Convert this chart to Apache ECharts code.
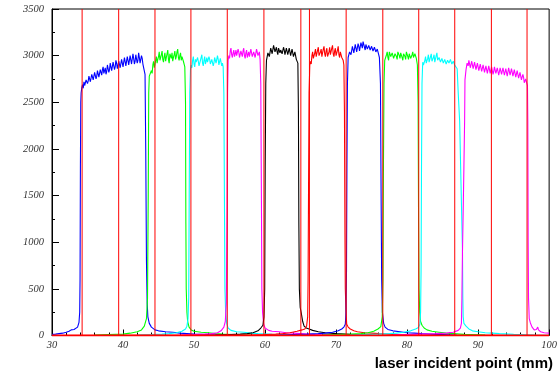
<!DOCTYPE html>
<html>
<head>
<meta charset="utf-8">
<script src="https://cdn.jsdelivr.net/npm/echarts@6/dist/echarts.min.js"></script>
<style>
html,body{margin:0;padding:0;background:#fff;}
#c{width:560px;height:380px;}
</style>
</head>
<body>
<div id="c"></div>
<script>
// ---- data (x in mm, y in counts) ----
const blueA = [[30,12],[30.5,15],[31,20],[31.5,25],[32,35],[32.4,45],[32.7,60],[32.9,80],[33.1,65],[33.3,75],[33.6,90],[33.8,140],[33.9,250],[33.95,600],[34.0,1800],[34.05,2500],[34.1,2600],[34.2,2660],
[34.3,2690],[34.4,2650],[34.5,2720],[34.6,2680],[34.7,2700],[34.8,2740],[34.9,2750],[35.0,2700],[35.1,2730],[35.2,2780],[35.3,2770],[35.4,2720],[35.5,2740],[35.6,2800],[35.7,2790],[35.8,2740],[35.9,2760],[36.0,2820],[36.1,2800],[36.2,2750],[36.3,2780],[36.4,2840],[36.5,2830],[36.6,2770],[36.7,2790],[36.8,2850],[36.9,2820],[37.0,2790],[37.1,2850],[37.2,2880],[37.3,2810],[37.4,2840],[37.5,2870],[37.6,2800],[37.7,2830],[37.8,2900],[37.9,2880],[38.0,2820],[38.1,2850],[38.2,2920],[38.3,2900],[38.4,2840],[38.5,2860],[38.6,2930],[38.7,2910],[38.8,2850],[38.9,2880],[39.0,2950],[39.1,2920],[39.2,2860],[39.3,2870],[39.4,2940],[39.5,2930],[39.6,2870],[39.7,2890],[39.8,2960],[39.9,2940],[40.0,2880],[40.1,2900],[40.2,2980],[40.3,2960],[40.4,2890],[40.5,2910],[40.6,2990],[40.7,2950],[40.8,2900],[40.9,2920],[41.0,3000],[41.1,2990],[41.2,2910],[41.3,2930],[41.4,3020],[41.5,2970],[41.6,2910],[41.7,2940],[41.8,3010],[41.9,2990],[42.0,2920],[42.1,2950],[42.2,3030],[42.3,2980],[42.4,2920],[42.5,2940],[42.6,3000],[42.7,2970],[42.8,2910],[42.9,2930],[43.0,2900],[43.1,2800],
[43.2,2000],[43.3,800],[43.4,350],[43.5,200],[43.7,130],[44.0,90],[44.5,60],[45,50],[46,40],[47,35],[48,25],[49,20],[50,15],[52,10],[55,5]];

const greenA = [[36,5],[38,10],[40,15],[41,25],[42,40],[42.6,60],[43,100],[43.3,180],[43.45,400],[43.55,1500],[43.62,2600],[43.7,2780],
[43.8,2790],[43.9,2760],[44.0,2840],[44.1,2810],[44.2,2900],[44.3,2940],[44.4,2870],[44.5,2910],[44.6,2950],[44.7,2990],[44.8,2920],[44.9,2960],[45.0,2990],[45.1,3040],[45.2,2950],[45.3,2980],[45.4,3010],[45.5,3050],[45.6,2960],[45.7,2930],[45.8,2990],[45.9,3030],[46.0,2940],[46.1,2980],[46.2,3000],[46.3,3060],[46.4,2960],[46.5,2920],[46.6,3020],[46.7,3000],[46.8,2970],[46.9,3030],[47.0,2940],[47.1,2980],[47.2,3010],[47.3,3050],[47.4,2960],[47.5,2990],[47.6,3040],[47.7,3070],[47.8,2980],[47.9,2950],[48.0,3000],[48.1,3030],[48.2,2950],[48.3,2990],[48.4,2990],[48.5,2940],[48.6,2930],[48.7,2880],
[48.8,2500],[48.85,1200],[48.9,500],[49.0,250],[49.1,150],[49.3,90],[49.6,60],[50,45],[51,35],[52,30],[53,20],[54,15],[56,8],[58,5]];

const cyanA = [[42,5],[44,10],[45.5,15],[46.5,20],[47.5,30],[48.3,45],[48.8,70],[49.0,100],[49.15,180],[49.25,400],[49.32,1500],[49.4,2600],[49.5,2850],
[49.6,2900],[49.7,2870],[49.8,2950],[49.9,2990],[50.0,2910],[50.1,2880],[50.2,2960],[50.3,2930],[50.4,2920],[50.5,2980],[50.6,2940],[50.7,2890],[50.8,2900],[50.9,2950],[51.0,2970],[51.1,3010],[51.2,2920],[51.3,2890],[51.4,2950],[51.5,2990],[51.6,2910],[51.7,2940],[51.8,2980],[51.9,2930],[52.0,2930],[52.1,2990],[52.2,2960],[52.3,2910],[52.4,2900],[52.5,2960],[52.6,2950],[52.7,2890],[52.8,2920],[52.9,2980],[53.0,2970],[53.1,2920],[53.2,2930],[53.3,3000],[53.4,2960],[53.5,2900],[53.6,2910],[53.7,2970],[53.8,2950],[53.9,2890],[54.0,2920],[54.1,2880],
[54.2,2600],[54.3,1200],[54.35,500],[54.45,250],[54.6,130],[54.8,80],[55.2,55],[56,40],[57,35],[58,25],[59,20],[61,12],[64,5]];

const magentaA = [[48,5],[50,10],[51.5,15],[52.5,20],[53.3,30],[53.8,50],[54.2,90],[54.4,150],[54.55,350],[54.65,1400],[54.72,2600],[54.8,2950],
[54.9,3000],[55.0,2970],[55.1,3050],[55.2,3080],[55.3,3010],[55.4,2980],[55.5,3030],[55.6,3060],[55.7,2990],[55.8,3020],[55.9,3060],[56.0,3000],[56.1,3010],[56.2,3070],[56.3,3040],[56.4,2980],[56.5,2990],[56.6,3050],[56.7,3020],[56.8,2990],[56.9,3050],[57.0,3080],[57.1,3000],[57.2,2970],[57.3,3030],[57.4,3060],[57.5,2980],[57.6,3010],[57.7,3040],[57.8,2990],[57.9,3010],[58.0,3070],[58.1,3050],[58.2,2990],[58.3,3000],[58.4,3040],[58.5,3030],[58.6,2980],[58.7,2990],[58.8,3070],[58.9,3060],[59.0,3000],[59.1,3010],[59.2,3040],[59.3,2960],
[59.4,2700],[59.5,1300],[59.55,500],[59.65,250],[59.8,120],[60.0,80],[60.5,55],[61,45],[62,40],[63,30],[64,25],[65,20],[67,10],[70,5]];

const blackA = [[53,5],[55,10],[56.5,15],[57.5,20],[58.3,30],[59,50],[59.4,80],[59.7,110],[59.85,200],[59.95,500],[60.02,1800],[60.1,2700],[60.2,2950],
[60.3,2990],[60.4,3030],[60.5,3040],[60.6,2990],[60.7,3010],[60.8,3080],[60.9,3070],[61.0,3020],[61.1,3030],[61.2,3110],[61.3,3100],[61.4,3040],[61.5,3060],[61.6,3090],[61.7,3040],[61.8,3010],[61.9,3080],[62.0,3070],[62.1,3030],[62.2,3060],[62.3,3070],[62.4,3020],[62.5,3040],[62.6,3090],[62.7,3060],[62.8,3010],[62.9,3020],[63.0,3080],[63.1,3070],[63.2,3010],[63.3,3030],[63.4,3080],[63.5,3060],[63.6,3000],[63.7,3010],[63.8,3070],[63.9,3050],[64.0,2990],[64.1,3000],[64.2,3040],[64.3,3020],[64.4,2960],[64.5,2970],[64.62,2920],
[64.7,2400],[64.76,1200],[64.83,500],[64.95,300],[65.1,240],[65.3,150],[65.5,100],[65.8,80],[66.2,70],[66.7,55],[67.5,40],[68.5,30],[70,20],[72,12],[75,5]];

const redA = [[30,0],[58,5],[60,10],[61.5,15],[62.5,20],[63.5,30],[64.5,45],[65.2,60],[65.6,70],[65.85,100],[66.0,200],[66.06,600],[66.12,1500],[66.2,2600],[66.3,2900],
[66.4,2940],[66.5,2910],[66.6,3000],[66.7,3040],[66.8,2970],[66.9,2950],[67.0,3030],[67.1,3070],[67.2,2990],[67.3,3010],[67.4,3060],[67.5,3090],[67.6,3000],[67.7,2980],[67.8,3040],[67.9,3070],[68.0,2990],[68.1,3010],[68.2,3070],[68.3,3100],[68.4,3020],[68.5,2990],[68.6,3050],[68.7,3080],[68.8,2990],[68.9,3010],[69.0,3040],[69.1,3090],[69.2,3010],[69.3,3030],[69.4,3080],[69.5,3110],[69.6,3020],[69.7,2990],[69.8,3050],[69.9,3080],[70.0,3000],[70.1,3020],[70.2,3060],[70.3,3100],[70.4,3010],[70.5,2980],[70.6,3040],[70.7,3060],[70.8,2980],[70.9,3000],[71.0,2950],[71.1,2900],
[71.18,2400],[71.25,1100],[71.3,500],[71.4,250],[71.5,120],[71.7,90],[72.0,70],[72.5,50],[73,40],[74,30],[75,25],[76,20],[78,12],[80,5],[100,0]];

const blueB = [[62,5],[64,10],[66,15],[67.5,20],[68.5,25],[69.5,35],[70.3,50],[70.8,70],[71.1,90],[71.3,120],[71.4,250],[71.47,700],[71.53,1800],[71.6,2700],[71.7,2980],
[71.8,3000],[71.9,3040],[72.0,3060],[72.1,3010],[72.2,3030],[72.3,3100],[72.4,3090],[72.5,3030],[72.6,3050],[72.7,3120],[72.8,3110],[72.9,3040],[73.0,3060],[73.1,3130],[73.2,3100],[73.3,3050],[73.4,3070],[73.5,3140],[73.6,3130],[73.7,3080],[73.8,3150],[73.9,3120],[74.0,3090],[74.1,3060],[74.2,3120],[74.3,3140],[74.4,3070],[74.5,3050],[74.6,3110],[74.7,3130],[74.8,3060],[74.9,3040],[75.0,3100],[75.1,3120],[75.2,3050],[75.3,3030],[75.4,3090],[75.5,3110],[75.6,3040],[75.7,3020],[75.8,3070],[75.9,3080],[76.0,3010],[76.1,2980],
[76.25,2700],[76.35,1400],[76.42,600],[76.52,250],[76.7,130],[76.9,90],[77.3,65],[78,50],[79,40],[80,30],[81,25],[82,20],[84,12],[87,5]];

const greenB = [[68,5],[70,10],[72,15],[73.5,20],[74.5,30],[75.3,45],[75.9,70],[76.3,95],[76.5,200],[76.6,600],[76.67,1800],[76.75,2700],[76.85,2950],
[76.9,2960],[77.0,2930],[77.1,3010],[77.2,3040],[77.3,2980],[77.4,2950],[77.5,3040],[77.6,3060],[77.7,2990],[77.8,2970],[77.9,3030],[78.0,3050],[78.1,2970],[78.2,2950],[78.3,3020],[78.4,3040],[78.5,2990],[78.6,2960],[78.7,3040],[78.8,3060],[78.9,3000],[79.0,2970],[79.1,3030],[79.2,3050],[79.3,2980],[79.4,2950],[79.5,3020],[79.6,3040],[79.7,2990],[79.8,2960],[79.9,3040],[80.0,3060],[80.1,2990],[80.2,2960],[80.3,3020],[80.4,3030],[80.5,2970],[80.6,2950],[80.7,3010],[80.8,3040],[80.9,2980],[81.0,2960],[81.1,3020],[81.2,3030],[81.3,2970],[81.45,2900],
[81.55,2500],[81.62,1200],[81.68,500],[81.78,250],[81.9,150],[82.1,110],[82.4,80],[82.8,60],[83.5,45],[84.5,35],[85.5,25],[86.5,20],[88,12],[91,5]];

const cyanB = [[72,5],[74,10],[76,15],[77.5,20],[78.5,25],[79.5,35],[80.5,50],[81.2,70],[81.6,85],[81.8,120],[81.9,250],[81.97,700],[82.03,1800],[82.1,2700],[82.2,2930],
[82.3,2900],[82.4,2880],[82.5,2950],[82.6,2990],[82.7,2920],[82.8,2900],[82.9,2970],[83.0,3010],[83.1,2930],[83.2,2910],[83.3,2990],[83.4,3020],[83.5,2940],[83.6,2920],[83.7,2980],[83.8,3010],[83.9,2930],[84.0,2950],[84.1,3000],[84.2,3030],[84.3,2950],[84.4,2930],[84.5,2980],[84.6,3000],[84.7,2930],[84.8,2910],[84.9,2970],[85.0,2990],[85.1,2920],[85.2,2900],[85.3,2960],[85.4,2980],[85.5,2910],[85.6,2890],[85.7,2950],[85.8,2970],[85.9,2920],[86.0,2900],[86.1,2960],[86.2,2970],[86.3,2910],[86.4,2890],[86.5,2940],[86.6,2950],[86.7,2900],[86.8,2880],[86.9,2920],[87.05,2860],
[87.2,2600],[87.4,2300],[87.6,1600],[87.8,900],[87.85,400],[87.9,200],[88.0,130],[88.3,100],[88.7,70],[89.2,50],[90,40],[91,30],[92,25],[93,20],[95,12],[98,5],[100,3]];

const magentaB = [[78,5],[80,10],[82,15],[84,20],[85.5,25],[86.5,35],[87.2,55],[87.5,80],[87.65,130],[87.72,400],[87.8,900],[88.0,1800],[88.1,2300],[88.15,2740],[88.3,2850],[88.45,2920],
[88.6,2890],[88.7,2950],[88.8,2930],[88.9,2870],[89.0,2880],[89.1,2940],[89.2,2920],[89.3,2860],[89.4,2870],[89.5,2930],[89.6,2910],[89.7,2850],[89.8,2860],[89.9,2920],[90.0,2900],[90.1,2840],[90.2,2860],[90.3,2910],[90.4,2890],[90.5,2830],[90.6,2840],[90.7,2900],[90.8,2880],[90.9,2820],[91.0,2840],[91.1,2890],[91.2,2870],[91.3,2810],[91.4,2830],[91.5,2890],[91.6,2870],[91.7,2810],[91.8,2820],[91.9,2880],[92.0,2860],[92.1,2800],[92.2,2830],[92.3,2880],[92.4,2870],[92.5,2810],[92.6,2820],[92.7,2870],[92.8,2850],[92.9,2790],[93.0,2810],[93.1,2870],[93.2,2860],[93.3,2800],[93.4,2820],[93.5,2870],[93.6,2850],[93.7,2790],[93.8,2810],[93.9,2860],[94.0,2840],[94.1,2780],[94.2,2800],[94.3,2870],[94.4,2850],[94.5,2790],[94.6,2810],[94.7,2860],[94.8,2840],[94.9,2780],[95.0,2800],[95.1,2850],[95.2,2830],[95.3,2770],[95.4,2790],[95.5,2840],[95.6,2820],[95.7,2760],[95.8,2780],[95.9,2820],[96.0,2800],[96.1,2740],[96.2,2760],[96.3,2800],[96.4,2770],[96.5,2710],[96.6,2730],[96.7,2750],[96.8,2720],[96.95,2680],
[97.0,2300],[97.05,1000],[97.1,400],[97.2,180],[97.35,137],[97.6,90],[97.9,60],[98.2,65],[98.4,90],[98.5,60],[98.8,40],[99.3,30],[100,25]];

const cutLines = [34.24, 39.39, 44.50, 49.56, 54.68, 59.84, 65.04, 66.25, 71.42, 76.58, 81.64, 86.71, 91.87, 96.89];
const yRange = [0, 3500];
const xTitle = 'laser incident point (mm)';

const traces = [
  {d: blueA, c: '#0000ff'}, {d: greenA, c: '#00ff00'}, {d: cyanA, c: '#00ffff'},
  {d: magentaA, c: '#ff00ff'}, {d: blackA, c: '#000000'}, {d: redA, c: '#ff0000'},
  {d: blueB, c: '#0000ff'}, {d: greenB, c: '#00ff00'}, {d: cyanB, c: '#00ffff'},
  {d: magentaB, c: '#ff00ff'}
];

const chart = echarts.init(document.getElementById('c'), null, {renderer: 'canvas'});
const labelStyle = {fontFamily: 'Liberation Serif', fontStyle: 'italic', fontSize: 10.5, color: '#333'};

const series = traces.map((t, i) => ({
  type: 'line', data: t.d, showSymbol: false, symbol: 'none',
  lineStyle: {color: t.c, width: 1.1}, z: 2 + i, silent: true
}));
cutLines.forEach(v => series.push({
  type: 'line', data: [[v, yRange[0]], [v, yRange[1]]], showSymbol: false, symbol: 'none',
  lineStyle: {color: '#ff0000', width: 1}, z: 30, silent: true
}));
series.push({
  type: 'line', data: [[30, 0], [100, 0]], showSymbol: false, symbol: 'none',
  lineStyle: {color: '#ff0000', width: 2}, z: 31, silent: true
});

chart.setOption({
  animation: false,
  backgroundColor: '#fff',
  grid: {left: 52, right: 6, top: 9, bottom: 44.5, show: true, borderColor: '#000', borderWidth: 1, containLabel: false},
  xAxis: {
    type: 'value', min: 30, max: 100, interval: 10,
    axisLine: {show: true, lineStyle: {color: '#000', width: 1}},
    axisTick: {show: true, inside: true, length: 6, lineStyle: {color: '#000'}},
    minorTick: {show: true, splitNumber: 5, length: 3, lineStyle: {color: '#000'}},
    splitLine: {show: false},
    axisLabel: Object.assign({margin: 4, formatter: v => String(v)}, labelStyle)
  },
  yAxis: {
    type: 'value', min: yRange[0], max: yRange[1], interval: 500,
    axisLine: {show: true, lineStyle: {color: '#000', width: 1}},
    axisTick: {show: true, inside: true, length: 7, lineStyle: {color: '#000'}},
    minorTick: {show: true, splitNumber: 2, length: 3, lineStyle: {color: '#000'}},
    splitLine: {show: false},
    axisLabel: Object.assign({margin: 8, formatter: v => String(v)}, labelStyle)
  },
  graphic: [{
    type: 'text', right: 7, top: 356,
    style: {text: xTitle, font: 'bold 15px "Liberation Sans", Arial, sans-serif', fill: '#000'}
  }],
  series: series
});
</script>
</body>
</html>
